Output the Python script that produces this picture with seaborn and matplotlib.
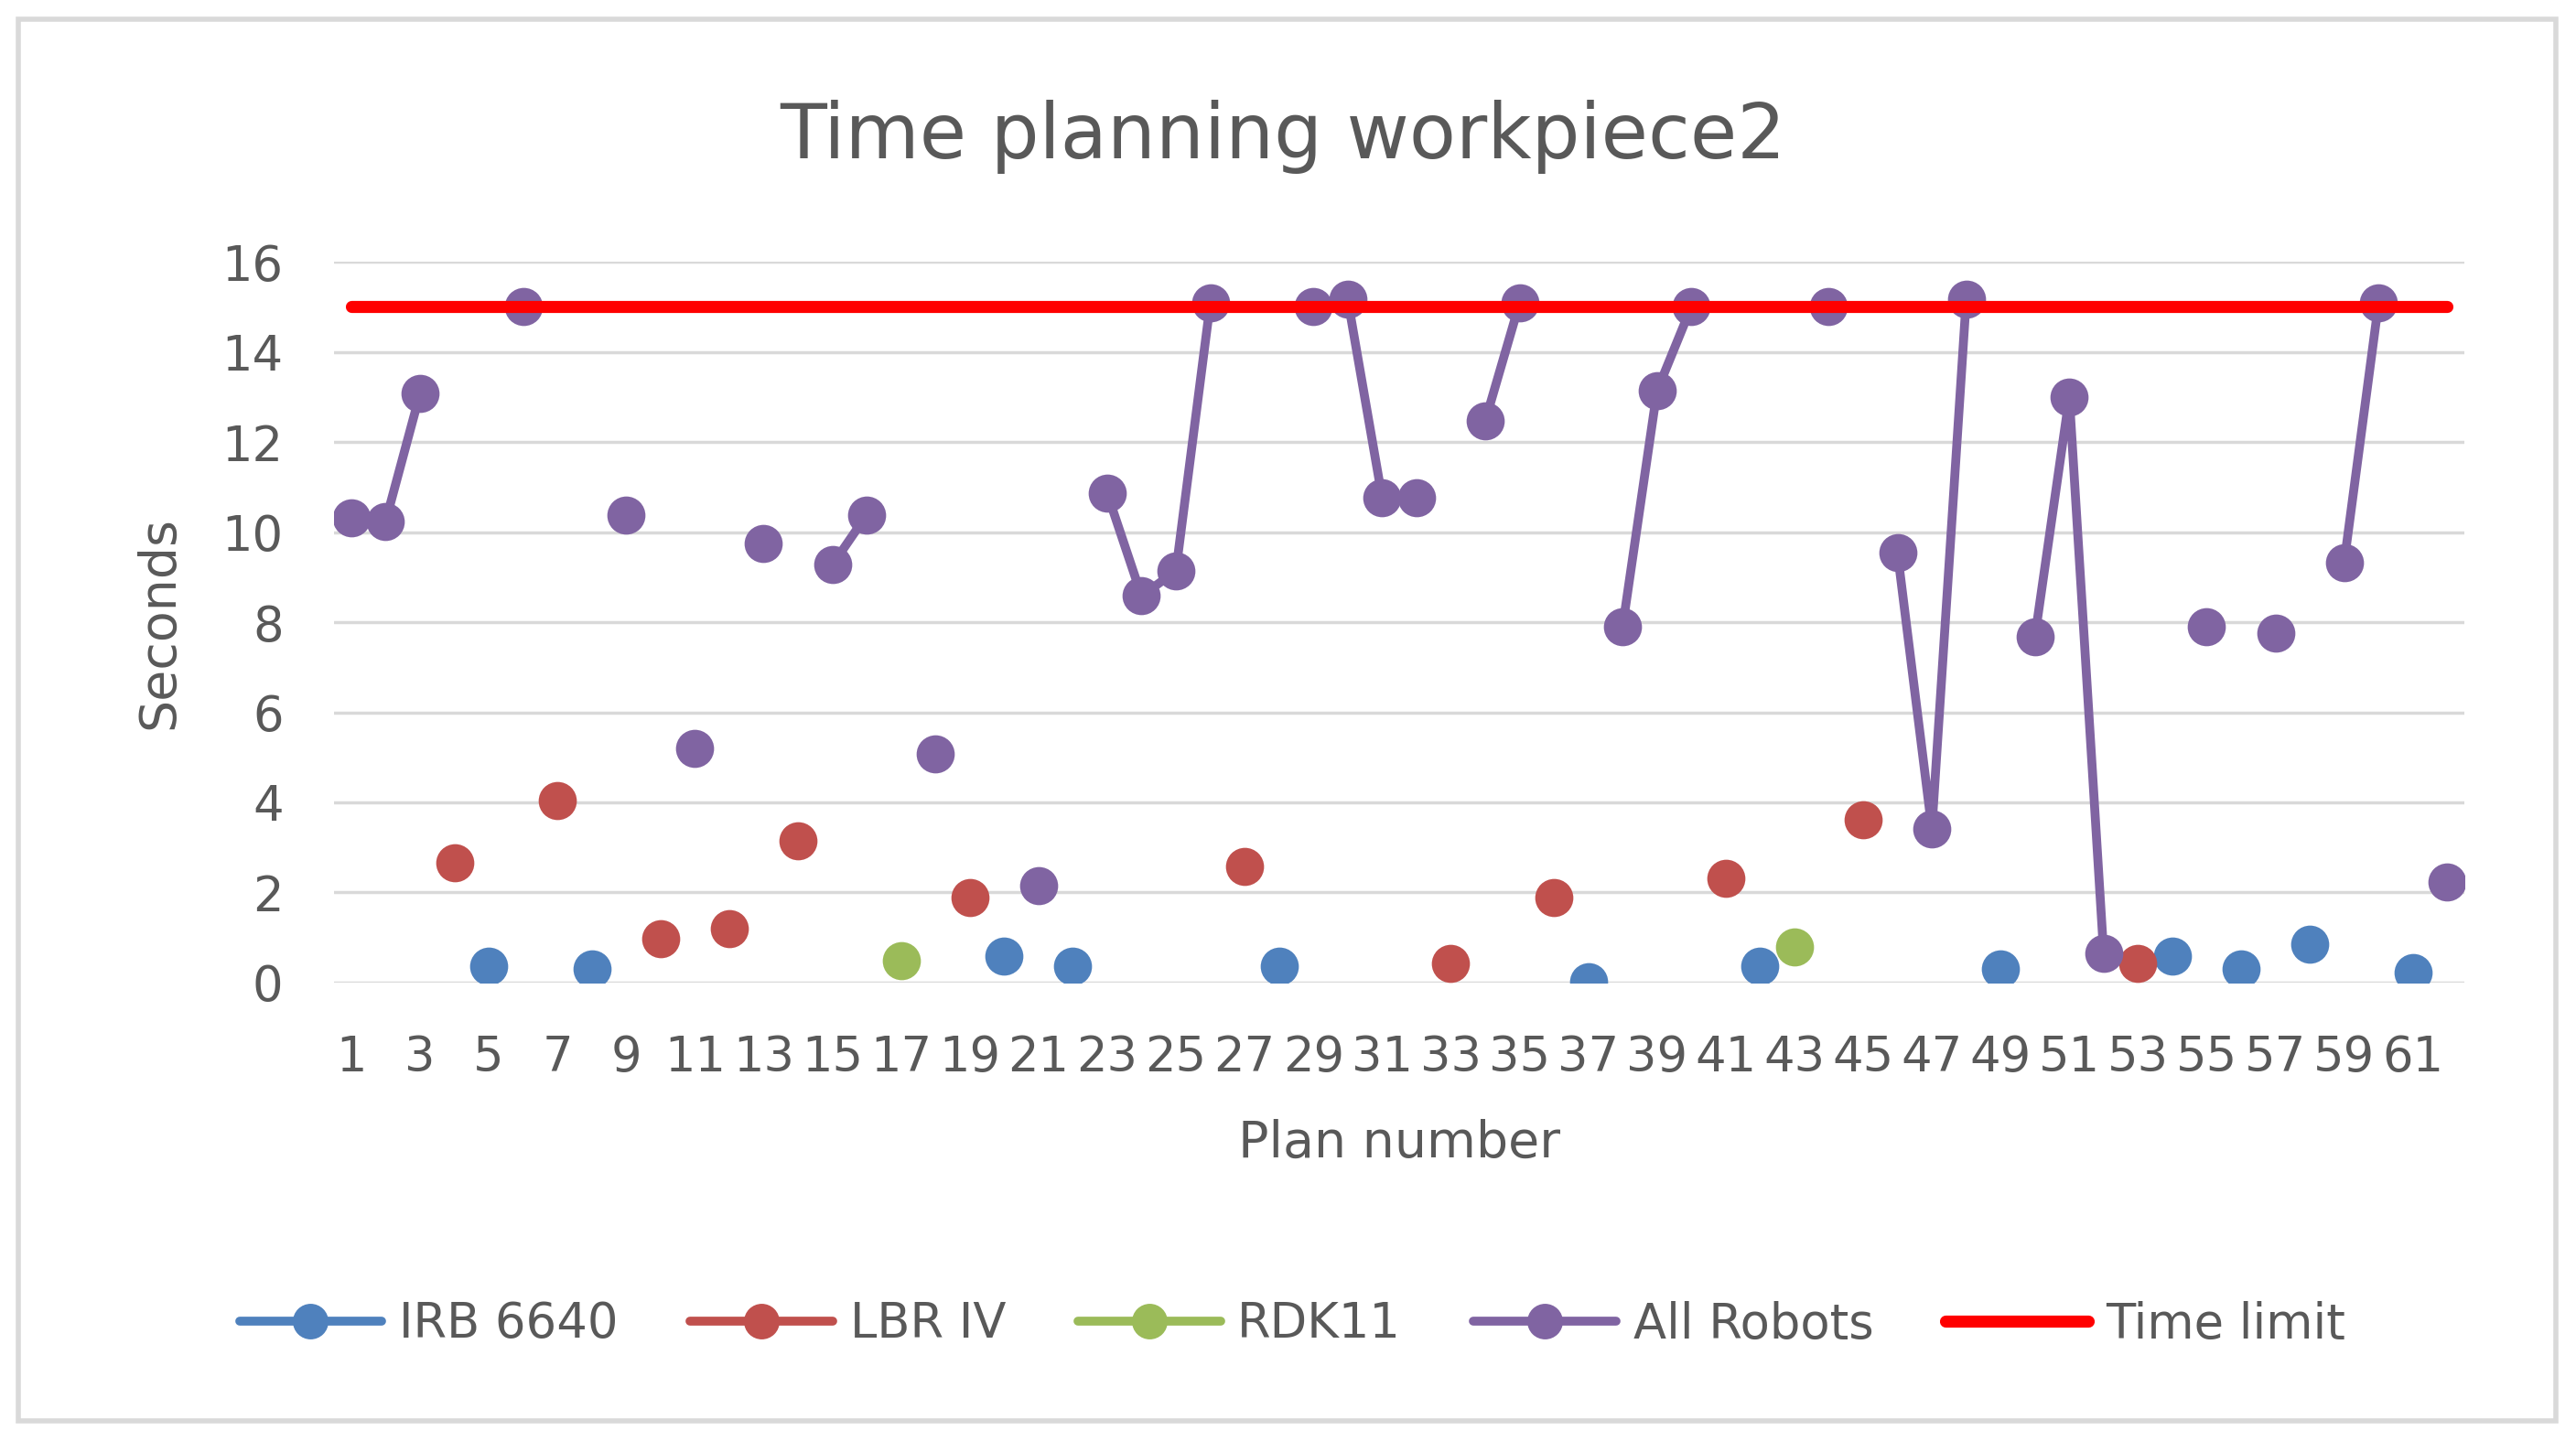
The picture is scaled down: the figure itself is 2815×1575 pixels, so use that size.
import numpy as np
import pandas as pd
import matplotlib
matplotlib.use('Agg')
import matplotlib.pyplot as plt
import seaborn as sns
from matplotlib.lines import Line2D
from matplotlib.patches import Rectangle

# plan numbers 1..62 (seconds)
plans = list(range(1, 63))

irb_plans = [5, 8, 20, 22, 28, 37, 42, 49, 54, 56, 58, 61]
irb_values = [0.37, 0.30, 0.58, 0.37, 0.37, 0.02, 0.37, 0.30, 0.58, 0.30, 0.86, 0.23]

lbr_plans = [4, 7, 10, 12, 14, 19, 27, 33, 36, 41, 45, 53]
lbr_values = [2.65, 4.04, 0.98, 1.19, 3.14, 1.88, 2.58, 0.43, 1.88, 2.31, 3.61, 0.43]

rdk_plans = [17, 43]
rdk_values = [0.49, 0.79]

all_plans = [1, 2, 3, 6, 9, 11, 13, 15, 16, 18, 21, 23, 24, 25, 26, 29, 30, 31, 32,
             34, 35, 38, 39, 40, 44, 46, 47, 48, 50, 51, 52, 55, 57, 59, 60, 62]
all_values = [10.31, 10.24, 13.07, 15.0, 10.38, 5.2, 9.75, 9.27, 10.38, 5.07, 2.15,
              10.86, 8.58, 9.14, 15.08, 15.0, 15.16, 10.77, 10.77, 12.46, 15.08,
              7.9, 13.13, 15.0, 15.0, 9.54, 3.41, 15.16, 7.68, 13.0, 0.64,
              7.9, 7.75, 9.33, 15.08, 2.24]

time_limit = 15

series_names = ['IRB 6640', 'LBR IV', 'RDK11', 'All Robots', 'Time limit']
colors = ['#4F81BD', '#C0504D', '#9BBB59', '#8064A2', '#FF0000']
text_color = '#595959'


def to_frame(xs, ys):
    # Excel-style gaps: a line only joins consecutive plan numbers
    df = pd.DataFrame({'plan': xs, 'value': ys})
    df['seg'] = (df['plan'].diff() != 1).cumsum()
    return df


sns.set_theme(style='white')
plt.rcParams['font.family'] = ['DejaVu Sans']

fig = plt.figure(figsize=(28.15, 15.75), dpi=100)
ax = fig.add_axes([0.1297, 0.3181, 0.827, 0.5003])

point_series = [(irb_plans, irb_values), (lbr_plans, lbr_values),
                (rdk_plans, rdk_values), (all_plans, all_values)]
for (xs, ys), c in zip(point_series, colors[:4]):
    sns.lineplot(data=to_frame(xs, ys), x='plan', y='value', units='seg',
                 estimator=None, sort=False, color=c, linewidth=7,
                 marker='o', markersize=30, markeredgewidth=0,
                 legend=False, ax=ax, zorder=3)

limit_df = pd.DataFrame({'plan': plans, 'value': [time_limit] * len(plans)})
sns.lineplot(data=limit_df, x='plan', y='value', color=colors[4], linewidth=9.5,
             solid_capstyle='round', legend=False, ax=ax, zorder=4)

ax.set_xlim(0.5, 62.5)
ax.set_ylim(0, 16)
ax.set_yticks(range(0, 17, 2))
ax.set_xticks(plans[::2])
ax.grid(axis='y', color='#D9D9D9', linewidth=2.5)
ax.set_axisbelow(True)
for s in ax.spines.values():
    s.set_visible(False)
ax.tick_params(axis='both', length=0, labelsize=38, labelcolor=text_color, pad=40)

ax.set_xlabel('Plan number', fontsize=40, color=text_color, labelpad=30)
ax.set_ylabel('Seconds', fontsize=40, color=text_color, labelpad=30)
fig.text(0.498, 0.905, 'Time planning workpiece2', ha='center', va='center',
         fontsize=60, color=text_color)

handles = [Line2D([0], [0], color=c, linewidth=7, marker='o', markersize=28,
                  markeredgewidth=0) for c in colors[:4]]
handles.append(Line2D([0], [0], color=colors[4], linewidth=9.5))
fig.legend(handles, series_names, loc='center', bbox_to_anchor=(0.5016, 0.081),
           ncol=5, frameon=False, fontsize=38, handlelength=2.95,
           handletextpad=0.35, columnspacing=1.5, labelcolor=text_color)

fig.patches.append(Rectangle((20 / 2815, 22 / 1575), 2773 / 2815, 1532 / 1575,
                             transform=fig.transFigure, fill=False,
                             edgecolor='#D9D9D9', linewidth=4))

fig.savefig('out.png', dpi=100, facecolor='white')
